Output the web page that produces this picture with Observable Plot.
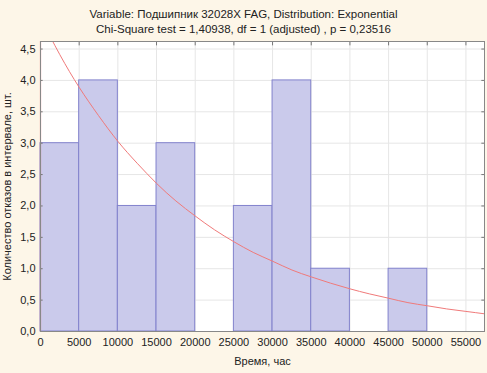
<!DOCTYPE html>
<html>
<head>
<meta charset="utf-8">
<script src="https://cdn.jsdelivr.net/npm/d3@7"></script>
<script src="https://cdn.jsdelivr.net/npm/@observablehq/plot@0.6"></script>
<style>
  html, body { margin: 0; padding: 0; background: #fdf6e8; }
  #wrap { width: 487px; height: 373px; position: relative; overflow: hidden; font-family: "Liberation Sans", Arial, sans-serif; }
  #title { height: 36px; text-align: center; font-size: 11.5px; color: #222; line-height: 15px; padding-top: 7px; box-sizing: border-box; }
</style>
</head>
<body>
<div id="wrap">
  <div id="title">Variable: Подшипник 32028X FAG, Distribution: Exponential<br>Chi-Square test = 1,40938, df = 1 (adjusted) , p = 0,23516</div>
  <div id="chart"></div>
</div>
<script>
// Histogram bins (lower edges, upper edges) and observed counts
const binStart = [0, 5000, 10000, 15000, 20000, 25000, 30000, 35000, 40000, 45000];
const binEnd   = [5000, 10000, 15000, 20000, 25000, 30000, 35000, 40000, 45000, 50000];
const counts   = [3, 4, 2, 3, 0, 2, 4, 1, 0, 1];

// Expected (fitted exponential) curve
const curveX = [0, 2500, 5000, 7500, 10000, 12500, 15000, 17500, 20000, 22500, 25000, 27500, 30000, 32500, 35000, 37500, 40000, 42500, 45000, 47500, 50000, 52500, 55000, 57500];
const curveY = [5.00, 4.41, 3.89, 3.44, 3.03, 2.68, 2.36, 2.08, 1.84, 1.62, 1.43, 1.26, 1.12, 0.98, 0.87, 0.77, 0.68, 0.60, 0.53, 0.46, 0.41, 0.36, 0.32, 0.28];

// Axis ticks
const xTicks = [0, 5000, 10000, 15000, 20000, 25000, 30000, 35000, 40000, 45000, 50000, 55000];
const yTicks = [0, 0.5, 1, 1.5, 2, 2.5, 3, 3.5, 4, 4.5];

const xMax = 57400, yMax = 4.62;

const bars = binStart.map((s, i) => ({x1: s, x2: binEnd[i], y: counts[i]}));
const curve = curveX.map((x, i) => ({x, y: curveY[i]}));

const fmtY = d => d.toFixed(1).replace(".", ",");

const plot = Plot.plot({
  width: 487,
  height: 337,
  marginTop: 5,
  marginLeft: 40,
  marginRight: 3,
  marginBottom: 42,
  style: {background: "transparent", fontFamily: "Liberation Sans, Arial, sans-serif", fontSize: "11px", color: "#222"},
  x: {domain: [0, xMax]},
  y: {domain: [0, yMax]},
  marks: [
    Plot.rect([0], {x1: 0, x2: xMax, y1: 0, y2: yMax, fill: "white"}),
    Plot.ruleX(xTicks, {stroke: "#e6e6e6", strokeWidth: 1}),
    Plot.ruleY(yTicks, {stroke: "#e6e6e6", strokeWidth: 1}),
    Plot.rectY(bars, {x1: "x1", x2: "x2", y: "y", fill: "#cacaeb", stroke: "#8282cc", strokeWidth: 1}),
    Plot.ruleX([0], {y1: 0, y2: yMax, stroke: "#f07070", strokeWidth: 1.2}),
    Plot.line(curve, {x: "x", y: "y", stroke: "#f07a7a", strokeWidth: 1, curve: "natural", clip: true}),
    // inner ticks
    Plot.ruleY(yTicks, {x1: 0, x2: xMax * 0.006, stroke: "#777"}),
    Plot.ruleY(yTicks, {x1: xMax * 0.994, x2: xMax, stroke: "#777"}),
    Plot.ruleX(xTicks, {y1: yMax * 0.985, y2: yMax, stroke: "#777"}),
    Plot.frame({stroke: "#888"}),
    Plot.axisX({ticks: xTicks, tickSize: 0, tickPadding: 7, tickFormat: d => String(d), label: "Время, час", labelAnchor: "center", labelArrow: "none", labelOffset: 33, fill: "#222"}),
    Plot.axisY({ticks: yTicks, tickSize: 0, tickPadding: 5, tickFormat: fmtY, label: "Количество отказов в интервале, шт.", labelAnchor: "center", labelArrow: "none", labelOffset: 37, fill: "#222"})
  ]
});

document.getElementById("chart").appendChild(plot);
</script>
</body>
</html>
